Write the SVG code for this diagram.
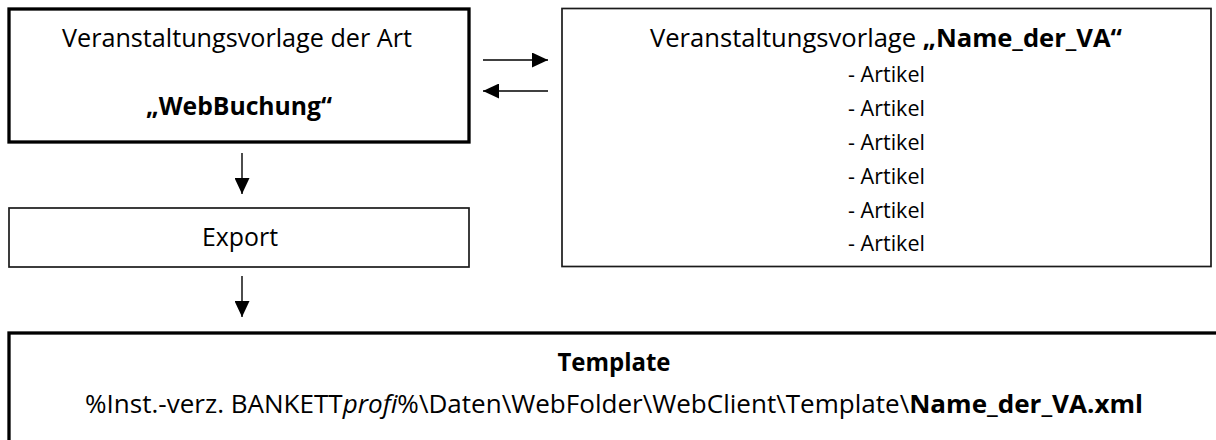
<svg xmlns="http://www.w3.org/2000/svg" width="1216" height="440" viewBox="0 0 1216 440">
<style>
.t{font-family:"Open Sans","Noto Sans","Liberation Sans",sans-serif;fill:#000}
.l{font-size:25px}
.s{font-size:21px}
.b{font-weight:bold}
.i{font-style:italic}
.thick{fill:#fff;stroke:#000;stroke-width:3.3}
.thin{fill:#fff;stroke:#1a1a1a;stroke-width:1.7}
.c{fill:none;stroke:#000;stroke-width:1.4;marker-end:url(#ah)}
</style>
<defs>
<marker id="ah" markerUnits="userSpaceOnUse" markerWidth="16" markerHeight="15" refX="16" refY="7.5" orient="auto">
<path d="M0,0 L16,7.5 L0,15 Z" fill="#000"/>
</marker>
</defs>
<rect width="1216" height="440" fill="#fff"/>
<g id="connectors">
<path class="c" d="M483,60 H548"/>
<path class="c" d="M548,91 H483"/>
<path class="c" d="M242,153 V194"/>
<path class="c" d="M242,276 V317"/>
</g>
<g id="node-webbuchung">
<rect class="thick" x="9" y="9" width="460" height="133"/>
<text class="t l" x="237" y="47" text-anchor="middle" textLength="350" lengthAdjust="spacingAndGlyphs">Veranstaltungsvorlage der Art</text>
<text class="t l b" x="239" y="115" text-anchor="middle" textLength="186" lengthAdjust="spacingAndGlyphs">„WebBuchung“</text>
</g>
<g id="node-export">
<rect class="thin" x="9" y="208" width="460" height="59"/>
<text class="t l" x="240" y="246" text-anchor="middle" textLength="76" lengthAdjust="spacingAndGlyphs">Export</text>
</g>
<g id="node-vorlage">
<rect class="thin" x="562" y="8.5" width="649" height="258"/>
<text class="t l" x="886" y="47" text-anchor="middle" textLength="472" lengthAdjust="spacingAndGlyphs">Veranstaltungsvorlage <tspan class="b">„Name_der_VA“</tspan></text>
<text class="t s" x="886.5" y="82" text-anchor="middle" textLength="77" lengthAdjust="spacingAndGlyphs">- Artikel</text>
<text class="t s" x="886.5" y="116" text-anchor="middle" textLength="77" lengthAdjust="spacingAndGlyphs">- Artikel</text>
<text class="t s" x="886.5" y="150" text-anchor="middle" textLength="77" lengthAdjust="spacingAndGlyphs">- Artikel</text>
<text class="t s" x="886.5" y="184" text-anchor="middle" textLength="77" lengthAdjust="spacingAndGlyphs">- Artikel</text>
<text class="t s" x="886.5" y="218" text-anchor="middle" textLength="77" lengthAdjust="spacingAndGlyphs">- Artikel</text>
<text class="t s" x="886.5" y="251" text-anchor="middle" textLength="77" lengthAdjust="spacingAndGlyphs">- Artikel</text>
</g>
<g id="node-template">
<rect class="thick" x="9" y="333" width="1214" height="120"/>
<text class="t l b" x="614" y="371" text-anchor="middle" textLength="113" lengthAdjust="spacingAndGlyphs">Template</text>
<text class="t l" x="614" y="413" text-anchor="middle" textLength="1058" lengthAdjust="spacingAndGlyphs">%Inst.-verz. BANKETT<tspan class="i">profi</tspan>%\Daten\WebFolder\WebClient\Template\<tspan class="b">Name_der_VA.xml</tspan></text>
</g>
</svg>
